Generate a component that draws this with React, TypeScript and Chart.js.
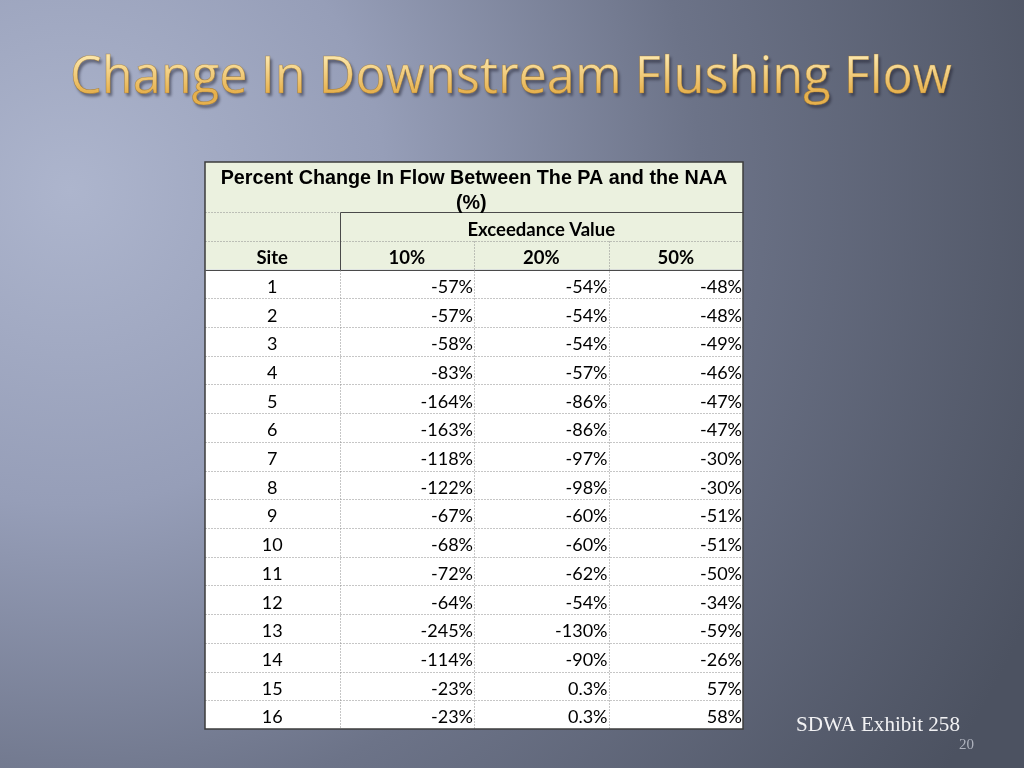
import React, { useEffect, useRef } from "react";
import { Chart, registerables } from "chart.js";

Chart.register(...registerables);

const titleText = "Change In Downstream Flushing Flow";
const headerLine1 = "Percent Change In Flow Between The PA and the NAA";
const headerLine2 = "(%)";
const groupLabel = "Exceedance Value";
const columnLabels = ["Site", "10%", "20%", "50%"];
const sites = ["1", "2", "3", "4", "5", "6", "7", "8", "9", "10", "11", "12", "13", "14", "15", "16"];
const change10 = [-57, -57, -58, -83, -164, -163, -118, -122, -67, -68, -72, -64, -245, -114, -23, -23];
const change20 = [-54, -54, -54, -57, -86, -86, -97, -98, -60, -60, -62, -54, -130, -90, 0.3, 0.3];
const change50 = [-48, -48, -49, -46, -47, -47, -30, -30, -51, -51, -50, -34, -59, -26, 57, 58];
const footerText = "SDWA Exhibit 258";
const pageNumber = "20";

const HEAD1 = 1.75; // row-unit height of first header row
const ROWS_TOTAL = HEAD1 + 2 + sites.length;

const fmt = (v: number) => `${v}%`;

const tablePlugin = {
  id: "tablePlugin",
  beforeDraw(chart: any) {
    const { ctx, width, height } = chart;
    ctx.save();
    const g = ctx.createRadialGradient(70, 190, 0, 70, 190, 1050);
    g.addColorStop(0, "#adb5cd");
    g.addColorStop(0.3, "#969eb8");
    g.addColorStop(0.6, "#6c7388");
    g.addColorStop(1, "#4c5261");
    ctx.fillStyle = g;
    ctx.fillRect(0, 0, width, height);

    // title
    ctx.font = "48px 'Open Sans'";
    const w = ctx.measureText(titleText).width;
    const size = 48 * (882 / w);
    ctx.font = `${size}px 'Open Sans'`;
    ctx.textAlign = "center";
    ctx.textBaseline = "alphabetic";
    ctx.shadowColor = "rgba(30,30,45,0.55)";
    ctx.shadowOffsetX = 2;
    ctx.shadowOffsetY = 3;
    ctx.shadowBlur = 3;
    const tg = ctx.createLinearGradient(0, 58, 0, 93);
    tg.addColorStop(0, "#fbe4a6");
    tg.addColorStop(1, "#e6b04c");
    ctx.fillStyle = tg;
    ctx.fillText(titleText, 511, 93);
    ctx.shadowColor = "transparent";
    ctx.lineWidth = 0.6;
    ctx.strokeStyle = "rgba(150,110,40,0.6)";
    ctx.strokeText(titleText, 511, 93);
    ctx.restore();

    // footer
    ctx.save();
    ctx.fillStyle = "#f2f2f4";
    ctx.textAlign = "left";
    ctx.textBaseline = "alphabetic";
    ctx.font = "18px 'Liberation Serif'";
    const fw = ctx.measureText(footerText).width;
    ctx.font = `${18 * (164 / fw)}px 'Liberation Serif'`;
    ctx.fillText(footerText, 796, 731);
    ctx.fillStyle = "#aeb2bd";
    ctx.font = "15px 'Liberation Serif'";
    ctx.textAlign = "right";
    ctx.fillText(pageNumber, 974, 749);
    ctx.restore();
  },
  afterDatasetsDraw(chart: any) {
    const { ctx } = chart;
    const xs = chart.scales.x;
    const ys = chart.scales.y;
    const X = (v: number) => xs.getPixelForValue(v);
    const Y = (v: number) => ys.getPixelForValue(v);
    const L = X(0), R = X(4), T = Y(0), B = Y(ROWS_TOTAL);

    ctx.save();
    ctx.fillStyle = "#ebf1df";
    ctx.fillRect(L, T, R - L, Y(HEAD1 + 2) - T);
    ctx.fillStyle = "#ffffff";
    ctx.fillRect(L, Y(HEAD1 + 2), R - L, B - Y(HEAD1 + 2));

    const dotted = (x1: number, y1: number, x2: number, y2: number) => {
      ctx.save();
      ctx.strokeStyle = "#8c8c8c";
      ctx.lineWidth = 1;
      ctx.setLineDash([1, 2]);
      ctx.beginPath();
      ctx.moveTo(Math.round(x1) + 0.5, Math.round(y1) + 0.5);
      ctx.lineTo(Math.round(x2) + 0.5, Math.round(y2) + 0.5);
      ctx.stroke();
      ctx.restore();
    };
    const solid = (x1: number, y1: number, x2: number, y2: number) => {
      ctx.save();
      ctx.strokeStyle = "#4a4a4a";
      ctx.lineWidth = 1;
      ctx.beginPath();
      ctx.moveTo(Math.round(x1) + 0.5, Math.round(y1) + 0.5);
      ctx.lineTo(Math.round(x2) + 0.5, Math.round(y2) + 0.5);
      ctx.stroke();
      ctx.restore();
    };

    for (let i = 1; i < sites.length; i++) {
      const y = Y(HEAD1 + 2 + i);
      dotted(L, y, R, y);
    }
    dotted(L, Y(HEAD1), X(1), Y(HEAD1));
    solid(X(1), Y(HEAD1), R, Y(HEAD1));
    dotted(L, Y(HEAD1 + 1), R, Y(HEAD1 + 1));
    solid(L, Y(HEAD1 + 2), R, Y(HEAD1 + 2));
    solid(X(1), Y(HEAD1), X(1), Y(HEAD1 + 2));
    dotted(X(1), Y(HEAD1 + 2), X(1), B);
    dotted(X(2), Y(HEAD1 + 1), X(2), B);
    dotted(X(3), Y(HEAD1 + 1), X(3), B);
    ctx.strokeStyle = "#3c3c3c";
    ctx.lineWidth = 1.5;
    ctx.strokeRect(L, T, R - L, B - T);

    ctx.fillStyle = "#000000";
    ctx.textAlign = "center";
    ctx.textBaseline = "middle";
    ctx.font = "bold 16px 'Liberation Sans'";
    const hw = ctx.measureText(headerLine1).width;
    ctx.font = `bold ${16 * (507 / hw)}px 'Liberation Sans'`;
    ctx.fillText(headerLine1, X(2), Y(0.5) + 2);
    ctx.fillText(headerLine2, X(1.98), Y(1.4) + 1);

    ctx.font = "bold 18.5px Lato";
    ctx.fillText(groupLabel, X(2.5), Y(HEAD1 + 0.5) + 3);
    columnLabels.forEach((lab, c) => {
      ctx.fillText(lab, X(c + 0.5), Y(HEAD1 + 1.5) + 3);
    });

    ctx.font = "18px Lato";
    const cols = [change10, change20, change50];
    sites.forEach((s, i) => {
      const yc = Y(HEAD1 + 2 + i + 0.5) + 3;
      ctx.textAlign = "center";
      ctx.fillText(s, X(0.5), yc);
      ctx.textAlign = "right";
      cols.forEach((arr, c) => {
        ctx.fillText(fmt(arr[i]), X(c + 2) - 1, yc);
      });
    });
    ctx.restore();
  },
};

export default function App() {
  const ref = useRef<HTMLCanvasElement | null>(null);
  useEffect(() => {
    if (!ref.current) return;
    const chart = new Chart(ref.current, {
      type: "scatter",
      data: { datasets: [{ data: [], pointRadius: 0 }] },
      options: {
        animation: false,
        responsive: false,
        maintainAspectRatio: false,
        layout: { padding: { left: 205, right: 281, top: 162, bottom: 39 } },
        plugins: { legend: { display: false }, tooltip: { enabled: false } },
        scales: {
          x: { type: "linear", min: 0, max: 4, display: false },
          y: { type: "linear", min: 0, max: ROWS_TOTAL, reverse: true, display: false },
        },
      },
      plugins: [tablePlugin],
    });
    return () => chart.destroy();
  }, []);
  return (
    <div style={{ position: "fixed", left: 0, top: 0, width: 1024, height: 768 }}>
      <canvas ref={ref} width={1024} height={768} style={{ width: 1024, height: 768, display: "block" }} />
    </div>
  );
}
